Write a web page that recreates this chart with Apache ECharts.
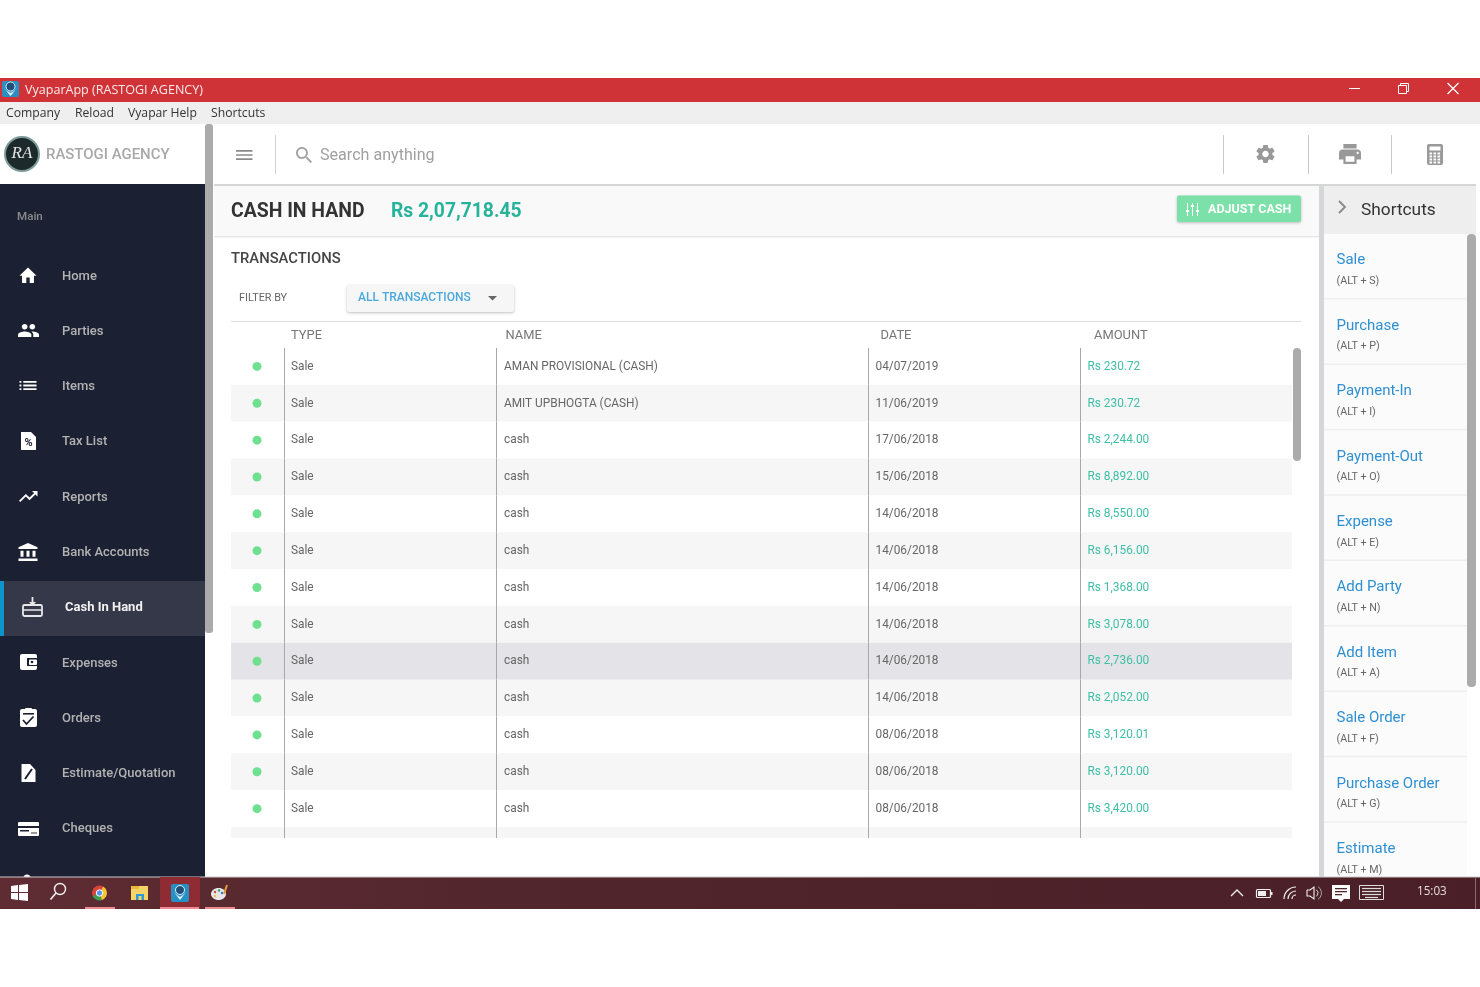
<!DOCTYPE html>
<html>
<head>
<meta charset="utf-8">
<title>VyaparApp</title>
<style>
html, body { margin: 0; padding: 0; background: #fff; }
#main { width: 1480px; height: 987px; filter: blur(0.35px); }
</style>
<script src="https://cdn.jsdelivr.net/npm/echarts@6/dist/echarts.min.js"></script>
</head>
<body>
<div id="main"></div>
<script>
// table data
var rowTypes = ['Sale','Sale','Sale','Sale','Sale','Sale','Sale','Sale','Sale','Sale','Sale','Sale','Sale'];
var rowNames = ['AMAN PROVISIONAL (CASH)','AMIT UPBHOGTA (CASH)','cash','cash','cash','cash','cash','cash','cash','cash','cash','cash','cash'];
var rowDates = ['04/07/2019','11/06/2019','17/06/2018','15/06/2018','14/06/2018','14/06/2018','14/06/2018','14/06/2018','14/06/2018','14/06/2018','08/06/2018','08/06/2018','08/06/2018'];
var rowAmounts = ['Rs 230.72','Rs 230.72','Rs 2,244.00','Rs 8,892.00','Rs 8,550.00','Rs 6,156.00','Rs 1,368.00','Rs 3,078.00','Rs 2,736.00','Rs 2,052.00','Rs 3,120.01','Rs 3,120.00','Rs 3,420.00'];
var tableHeads = ['TYPE','NAME','DATE','AMOUNT'];

// menus
var menuItems = ['Company','Reload','Vyapar Help','Shortcuts'];
var navItems = ['Home','Parties','Items','Tax List','Reports','Bank Accounts','Cash In Hand','Expenses','Orders','Estimate/Quotation','Cheques'];
var shortcutNames = ['Sale','Purchase','Payment-In','Payment-Out','Expense','Add Party','Add Item','Sale Order','Purchase Order','Estimate'];
var shortcutKeys = ['(ALT + S)','(ALT + P)','(ALT + I)','(ALT + O)','(ALT + E)','(ALT + N)','(ALT + A)','(ALT + F)','(ALT + G)','(ALT + M)'];

var ROBOTO = 'Roboto, sans-serif';
var SEGOE = '"Open Sans", sans-serif';

// material style icons
var ICONS = {
    home: 'M10 20v-6h4v6h5v-8h3L12 3 2 12h3v8z',
    people: 'M16 11c1.66 0 2.99-1.34 2.99-3S17.66 5 16 5c-1.66 0-3 1.34-3 3s1.34 3 3 3zm-8 0c1.66 0 2.99-1.34 2.99-3S9.66 5 8 5C6.34 5 5 6.34 5 8s1.34 3 3 3zm0 2c-2.33 0-7 1.17-7 3.5V19h14v-2.5c0-2.33-4.67-3.5-7-3.5zm8 0c-.29 0-.62.02-.97.05 1.16.84 1.97 1.97 1.97 3.45V19h6v-2.5c0-2.33-4.67-3.5-7-3.5z',
    list: 'M3 13h2v-2H3v2zm0 4h2v-2H3v2zm0-8h2V7H3v2zm4 4h14v-2H7v2zm0 4h14v-2H7v2zM7 7v2h14V7H7z',
    trend: 'M16 6l2.29 2.29-4.88 4.88-4-4L2 16.59 3.41 18l6-6 4 4 6.3-6.29L22 12V6z',
    bank: 'M4 10v7h3v-7H4zm6 0v7h3v-7h-3zM2 22h19v-3H2v3zm14-12v7h3v-7h-3zm-4.5-9L2 6v2h19V6l-9.5-5z',
    gear: 'M19.43 12.98c.04-.32.07-.64.07-.98s-.03-.66-.07-.98l2.11-1.65c.19-.15.24-.42.12-.64l-2-3.46c-.12-.22-.39-.3-.61-.22l-2.49 1c-.52-.4-1.08-.73-1.69-.98l-.38-2.65C14.46 2.18 14.25 2 14 2h-4c-.25 0-.46.18-.49.42l-.38 2.65c-.61.25-1.17.59-1.69.98l-2.49-1c-.23-.09-.49 0-.61.22l-2 3.46c-.13.22-.07.49.12.64l2.11 1.65c-.04.32-.07.65-.07.98s.03.66.07.98l-2.11 1.65c-.19.15-.24.42-.12.64l2 3.46c.12.22.39.3.61.22l2.49-1c.52.4 1.08.73 1.69.98l.38 2.65c.03.24.24.42.49.42h4c.25 0 .46-.18.49-.42l.38-2.65c.61-.25 1.17-.59 1.69-.98l2.49 1c.23.09.49 0 .61-.22l2-3.46c.12-.22.07-.49-.12-.64l-2.11-1.65zM12 15.5c-1.93 0-3.5-1.57-3.5-3.5s1.57-3.5 3.5-3.5 3.5 1.57 3.5 3.5-1.57 3.5-3.5 3.5z',
    print: 'M19 8H5c-1.66 0-3 1.34-3 3v6h4v4h12v-4h4v-6c0-1.66-1.34-3-3-3zm-3 11H8v-5h8v5zm3-7c-.55 0-1-.45-1-1s.45-1 1-1 1 .45 1 1-.45 1-1 1zm-1-9H6v4h12V3z',
    search: 'M15.5 14h-.79l-.28-.27C15.41 12.59 16 11.11 16 9.5 16 5.91 13.09 3 9.5 3S3 5.91 3 9.5 5.91 16 9.5 16c1.61 0 3.09-.59 4.23-1.57l.27.28v.79l5 4.99L20.49 19l-4.99-5zm-6 0C7.01 14 5 11.99 5 9.5S7.01 5 9.5 5 14 7.01 14 9.5 11.99 14 9.5 14z',
    menu: 'M3 18h18v-2H3v2zm0-5h18v-2H3v2zm0-7v2h18V6H3z'
};

var els = [];
var iconEls = [];
function rect(x, y, w, h, fill, r, extra) {
    var el = { type: 'rect', shape: { x: x, y: y, width: w, height: h, r: r || 0 }, style: { fill: fill } };
    if (extra) {
        for (var k in extra) el.style[k] = extra[k];
    }
    els.push(el);
}
function line(x1, y1, x2, y2, color, w) {
    els.push({ type: 'line', shape: { x1: x1, y1: y1, x2: x2, y2: y2 }, style: { stroke: color, lineWidth: w || 1 } });
}
function circle(cx, cy, r, fill, stroke, lw) {
    els.push({ type: 'circle', shape: { cx: cx, cy: cy, r: r }, style: { fill: fill, stroke: stroke || null, lineWidth: lw || 0 } });
}
function poly(points, fill, stroke, lw) {
    els.push({ type: fill ? 'polygon' : 'polyline', shape: { points: points }, style: { fill: fill || null, stroke: stroke || null, lineWidth: lw || 0 } });
}
// graphic has no path element, these go through a custom series
function icon(d, x, y, w, h, fill) {
    iconEls.push({ type: 'path', shape: { pathData: d, layout: 'cover', x: x, y: y, width: w, height: h }, style: { fill: fill } });
}
function text(s, x, y, size, color, weight, family, align) {
    els.push({ type: 'text', x: x, y: y + 1, style: {
        text: s, fill: color, align: align || 'left', verticalAlign: 'middle',
        font: (weight || 400) + ' ' + size + 'px ' + (family || ROBOTO)
    } });
}

// window chrome
rect(0, 78, 1480, 24, '#cf3338');
rect(0, 102, 1480, 22, '#efefef');
rect(2, 81, 17, 16, '#2b8fc2', 2);
circle(10.5, 86.5, 4.5, '#1d4f78', '#d8eef8', 1);
poly([[4, 88], [10.5, 96], [17, 88], [14, 91], [10.5, 93], [7, 91]], '#e8f4fa');
text('VyaparApp (RASTOGI AGENCY)', 25, 89.5, 12.55, '#fbeaea', 400, SEGOE);
line(1349, 88.5, 1360, 88.5, '#fff', 1);
els.push({ type: 'rect', shape: { x: 1398.5, y: 85.5, width: 8, height: 8 }, style: { fill: null, stroke: '#fff', lineWidth: 1 } });
poly([[1400.5, 85], [1400.5, 83.5], [1408.5, 83.5], [1408.5, 91.5], [1407, 91.5]], null, '#fff', 1);
line(1447.5, 83, 1458.5, 94, '#fff', 1.2);
line(1458.5, 83, 1447.5, 94, '#fff', 1.2);
var menuX = [6, 75, 128, 211];
menuItems.forEach(function (m, i) { text(m, menuX[i], 112.5, 12.2, '#333', 400, SEGOE); });

// top bar
rect(0, 124, 1476, 60, '#fff');
rect(214, 184, 1262, 2, '#d6d6d6');
circle(22, 154, 17, '#1c2a2b', '#7f9a9a', 2);
els.push({ type: 'text', x: 22, y: 154, style: { text: 'RA', fill: '#e6e6e6', align: 'center', verticalAlign: 'middle', font: 'italic 400 17px "Liberation Serif", serif' } });
text('RASTOGI AGENCY', 46, 154.3, 14.95, '#a8a8a8', 500);
icon(ICONS.menu, 236, 150, 16.5, 10, '#8a8a8a');
line(275.5, 135, 275.5, 174, '#d2d2d2', 1);
icon(ICONS.search, 296, 147, 16, 16, '#a2a2a2');
text('Search anything', 320, 154.5, 16.1, '#a0a0a0');
line(1223.5, 135, 1223.5, 174, '#c8c8c8', 1);
line(1308.5, 135, 1308.5, 174, '#c8c8c8', 1);
line(1391.5, 135, 1391.5, 174, '#c8c8c8', 1);
icon(ICONS.gear, 1256.5, 145, 18, 18, '#999');
icon(ICONS.print, 1339, 144, 22, 20, '#999');
rect(1427, 144, 16, 21, '#999', 2);
rect(1429.5, 146.5, 11, 4, '#fff');
[0, 1, 2, 3].forEach(function (r) {
    [0, 1, 2].forEach(function (c) { rect(1429.5 + c * 4, 152.5 + r * 3, 2.6, 2, '#fff'); });
});

// sidebar
rect(0, 184, 205, 693, '#1c2033');
rect(205, 124, 8, 509, '#ababab', 3);
text('Main', 17, 216, 11.6, '#8b8b8b', 500);
rect(0, 581, 205, 55, '#353848');
rect(0, 581, 4, 55, '#0e93cc');
var navY = [275.7, 330.7, 386, 441, 496.7, 552, 607, 662.7, 717.7, 773, 828.2];
navItems.forEach(function (n, i) {
    if (i === 6) text(n, 65, navY[i], 13, '#f2f2f2', 700);
    else text(n, 62, navY[i], 13, '#b2b2b2', 500);
});
var W = '#fff', D = '#1c2033';
icon(ICONS.home, 19.5, 267.5, 17, 15.5, W);
icon(ICONS.people, 18, 324, 21, 13, W);
icon(ICONS.list, 19.5, 381, 17, 9, W);
// tax list
poly([[21, 432], [31, 432], [36, 437], [36, 450], [21, 450]], W);
text('%', 28.5, 442.5, 11, D, 700, ROBOTO, 'center');
icon(ICONS.trend, 19, 491, 18.5, 11, W);
icon(ICONS.bank, 18.5, 543, 19, 18, W);
// cash in hand tray
els.push({ type: 'rect', shape: { x: 23, y: 605, width: 19, height: 11, r: 1.5 }, style: { fill: null, stroke: '#e8e8e8', lineWidth: 1.8 } });
line(23, 610, 42, 610, '#e8e8e8', 1.5);
line(32.5, 597, 32.5, 605, '#e8e8e8', 1.8);
poly([[29, 602], [36, 602], [32.5, 606]], '#e8e8e8');
// expenses wallet
rect(20, 654, 17, 16, W, 2);
rect(27, 658, 10, 8, D);
rect(29, 659.5, 8, 5.5, W, 1);
circle(32, 662, 1.3, D);
// orders clipboard
rect(20, 709, 17, 18, W, 2);
rect(25, 708, 7, 3, W, 1);
rect(23, 713, 11, 1.6, D);
poly([[23, 720], [26.5, 724], [33.5, 716.5]], null, D, 1.8);
// estimate doc
poly([[21.5, 764], [30, 764], [35.5, 770], [35.5, 782], [21.5, 782]], W);
line(25, 779, 32, 769, D, 2);
// cheques card
rect(18, 822, 21, 14, W, 1);
rect(18, 826, 21, 2, D);
rect(20, 830, 9, 1.5, D);
rect(31, 832, 6, 2, '#999');
circle(27, 878, 3.5, W);

// page header
rect(214, 186, 1105, 50, '#f9f9f9');
rect(214, 236, 1105, 1.5, '#e8e8e8');
text('CASH IN HAND', 231, 211, 19.4, '#333', 700);
text('Rs 2,07,718.45', 391, 211, 19.3, '#26b39b', 700);
rect(1177, 195.5, 124, 26.5, '#7ce0a9', 2, { shadowBlur: 3, shadowOffsetY: 1, shadowColor: 'rgba(0,0,0,0.25)' });
[1187, 1192, 1197].forEach(function (x, i) {
    line(x + 0.5, 203, x + 0.5, 216, '#fff', 1);
    rect(x - 1, [210, 205, 210][i], 3, 2, '#fff');
});
text('ADJUST CASH', 1208, 208.5, 12.5, '#fff', 700);

// transactions toolbar
text('TRANSACTIONS', 231, 258.5, 14.8, '#444', 500);
text('FILTER BY', 239, 297.3, 10.8, '#666', 400);
rect(347, 285, 167, 27, '#f6f6f6', 2, { shadowBlur: 3, shadowOffsetY: 1, shadowColor: 'rgba(0,0,0,0.25)' });
text('ALL TRANSACTIONS', 358, 296.5, 12, '#4aa9dc', 500);
poly([[488, 296], [497, 296], [492.5, 300.5]], '#666');
line(231, 321.5, 1301, 321.5, '#dcdcdc', 1);
var headX = [291, 505.5, 880.5, 1094];
tableHeads.forEach(function (h, i) { text(h, headX[i], 335, 12.9, '#777'); });
rect(1293, 348, 8, 113, '#ababab', 4);

// shortcuts panel
rect(1319, 186, 5, 691, '#d4d6da');
rect(1324, 186, 152, 48, '#eeeeee');
rect(1324, 234, 143, 643, '#fbfbfb');
poly([[1339, 201], [1345, 207], [1339, 213]], null, '#888', 1.8);
text('Shortcuts', 1361, 209.5, 17.3, '#333');
shortcutNames.forEach(function (s, i) {
    var top = 234 + i * 65.4;
    text(s, 1336.5, top + 25.6, 15, '#2e8fd2');
    text(shortcutKeys[i], 1336.5, top + 46.4, 10.7, '#666');
    if (i < shortcutNames.length - 1) rect(1324, top + 64, 143, 1.5, '#efefef');
});
rect(1467, 234, 9, 453, '#ababab', 4);

// taskbar
els.push({ type: 'rect', shape: { x: 0, y: 877, width: 1480, height: 32 }, style: { fill: {
    type: 'linear', x: 0, y: 0, x2: 1, y2: 0,
    colorStops: [{ offset: 0, color: '#5f2c33' }, { offset: 0.4, color: '#50252c' }, { offset: 1, color: '#4b1f27' }]
} } });
rect(0, 876.5, 1480, 1, '#c9c9c9');
rect(160, 877, 40, 32, '#8e2b33');
rect(85, 907, 30, 2, '#ee8b90');
rect(160, 907, 39, 2, '#ee8b90');
rect(205, 907, 30, 2, '#ee8b90');
// start logo
poly([[11, 886], [18, 885], [18, 892], [11, 892]], W);
poly([[19, 885], [28, 884], [28, 892], [19, 892]], W);
poly([[11, 893], [18, 893], [18, 900], [11, 899]], W);
poly([[19, 893], [28, 893], [28, 901], [19, 900]], W);
// search
circle(60, 889, 5.5, null, '#f2f2f2', 1.4);
line(56, 893, 50.5, 899.5, '#f2f2f2', 1.6);
// chrome
function chromePart(a0, a1, fill) {
    els.push({ type: 'sector', shape: { cx: 99.5, cy: 893, r: 7.5, r0: 0, startAngle: a0, endAngle: a1, clockwise: true }, style: { fill: fill } });
}
chromePart(Math.PI * 0.83, Math.PI * 1.5 + 0.5, '#d9443a');
chromePart(Math.PI * 1.5 + 0.5, Math.PI * 2.5 - 0.3, '#f6c431');
chromePart(Math.PI * 0.5 - 0.3, Math.PI * 0.83 + 0.1, '#3c9e51');
circle(99.5, 893, 3.2, '#5a94e8', '#fff', 1);
// explorer
rect(131, 886, 17, 14, '#f5d468');
rect(131, 886, 8, 3, '#e8b93c');
rect(136, 894, 8, 6, '#2d9ad6');
rect(138.5, 896, 3, 4, '#f5d468');
// vyapar
rect(171, 884, 18, 18, '#2590c4', 2);
circle(180, 890, 4.5, '#1d4f78', '#e0f0f8', 1);
poly([[174, 892], [180, 900], [186, 892], [183, 895], [180, 897], [177, 895]], '#e8f4fa');
// paint
els.push({ type: 'ellipse', shape: { cx: 218.5, cy: 894, rx: 7.5, ry: 6 }, style: { fill: '#e6e6ea' } });
circle(215, 892, 1.2, '#d9443a');
circle(219, 890.5, 1.2, '#3c9e51');
circle(222, 893, 1.2, '#2d7ad6');
circle(215, 896, 1.2, '#f6c431');
line(224, 894, 227, 885, '#e89a3c', 2);
// tray
poly([[1231, 896], [1237, 890], [1243, 896]], null, '#eee', 1.4);
els.push({ type: 'rect', shape: { x: 1256.5, y: 889.5, width: 14, height: 8, r: 1 }, style: { fill: null, stroke: '#eee', lineWidth: 1.2 } });
rect(1258, 891, 8, 5, '#eee');
rect(1271, 892, 1.5, 3, '#eee');
[4, 8, 12].forEach(function (r) {
    els.push({ type: 'arc', shape: { cx: 1296, cy: 899, r: r, startAngle: Math.PI, endAngle: Math.PI * 1.5 }, style: { stroke: '#f0f0f0', lineWidth: 1.2, fill: null } });
});
poly([[1307, 890], [1310, 890], [1314, 887], [1314, 899], [1310, 896], [1307, 896], [1307, 890]], null, '#eee', 1.1);
els.push({ type: 'arc', shape: { cx: 1314, cy: 893, r: 4, startAngle: -1, endAngle: 1 }, style: { stroke: '#ddd', lineWidth: 1, fill: null } });
els.push({ type: 'arc', shape: { cx: 1314, cy: 893, r: 7.5, startAngle: -1, endAngle: 1 }, style: { stroke: '#aaa', lineWidth: 1, fill: null } });
poly([[1332, 885], [1350, 885], [1350, 899], [1344, 899], [1341, 902], [1338, 899], [1332, 899]], '#fff');
rect(1335, 888, 12, 1.3, '#50252c');
rect(1335, 891, 12, 1.3, '#50252c');
rect(1335, 894, 7, 1.3, '#50252c');
els.push({ type: 'rect', shape: { x: 1359.5, y: 885.5, width: 24, height: 14 }, style: { fill: null, stroke: '#ddd', lineWidth: 1 } });
[888, 891, 894].forEach(function (y) { line(1362, y + 0.5, 1381, y + 0.5, '#ddd', 1.2); });
line(1365, 897.5, 1378, 897.5, '#ddd', 1.2);
text('15:03', 1417, 891, 11.7, '#e6dcdc', 400, SEGOE);
rect(1475, 877, 1, 32, '#8a6a6e');

// hidden axes: one slot per row, plus the cut off row under the last one
var rowH = 36.85;
var tableTop = 348, tableBottom = 838;
var rowSlots = rowTypes.map(function (t, i) { return i; }).concat([rowTypes.length]);
var HOVER_ROW = 8;
var bandLeft = 231, bandRight = 1292;
var colLines = [284.5, 496.5, 868.5, 1080.5];
var dotX = 257;
var cellX = [291, 504, 875.5, 1087.5];

var myChart = echarts.init(document.getElementById('main'));
var option = {
    animation: false,
    backgroundColor: '#fff',
    graphic: { elements: els },
    grid: { left: 0, right: 0, top: tableTop, height: rowH * rowSlots.length, containLabel: false },
    xAxis: { type: 'value', min: 0, max: 1480, show: false },
    yAxis: { type: 'category', inverse: true, data: rowSlots, show: false },
    series: [{
        // icons
        type: 'custom',
        coordinateSystem: 'none',
        silent: true,
        data: [0],
        renderItem: function () {
            return { type: 'group', children: iconEls };
        }
    }, {
        // row bands and column rules
        type: 'custom',
        silent: true,
        data: rowSlots.map(function (r) { return [0, r]; }),
        renderItem: function (params, api) {
            var r = api.value(1);
            var c = api.coord([bandLeft, r]);
            var h = api.size([0, 1])[1];
            var top = c[1] - h / 2;
            var bottom = Math.min(top + h, tableBottom);
            var fill = r === HOVER_ROW ? '#e4e4e8' : (r % 2 ? '#f6f6f6' : '#fff');
            var children = [{
                type: 'rect',
                shape: { x: c[0], y: top, width: api.coord([bandRight, r])[0] - c[0], height: bottom - top },
                style: { fill: fill }
            }];
            colLines.forEach(function (x) {
                var px = api.coord([x, r])[0];
                children.push({
                    type: 'line',
                    shape: { x1: px, y1: top, x2: px, y2: bottom },
                    style: { stroke: '#a8a8a8', lineWidth: 1 }
                });
            });
            return { type: 'group', children: children };
        }
    }, {
        // status dots
        type: 'scatter',
        silent: true,
        symbolSize: 9,
        itemStyle: { color: '#6fe08f', opacity: 1 },
        data: rowTypes.map(function (t, i) { return [dotX, i]; })
    }, {
        // cell text
        type: 'custom',
        silent: true,
        data: rowTypes.map(function (t, i) { return [0, i]; }),
        renderItem: function (params, api) {
            var r = api.value(1);
            var values = [rowTypes[r], rowNames[r], rowDates[r], rowAmounts[r]];
            return {
                type: 'group',
                children: values.map(function (v, j) {
                    var p = api.coord([cellX[j], r]);
                    return {
                        type: 'text',
                        x: p[0],
                        y: p[1] + 0.3,
                        style: {
                            text: v,
                            fill: j === 3 ? '#3dbfa5' : '#666',
                            align: 'left',
                            verticalAlign: 'middle',
                            font: '400 11.85px ' + ROBOTO
                        }
                    };
                })
            };
        }
    }]
};
myChart.setOption(option);
</script>
</body>
</html>
